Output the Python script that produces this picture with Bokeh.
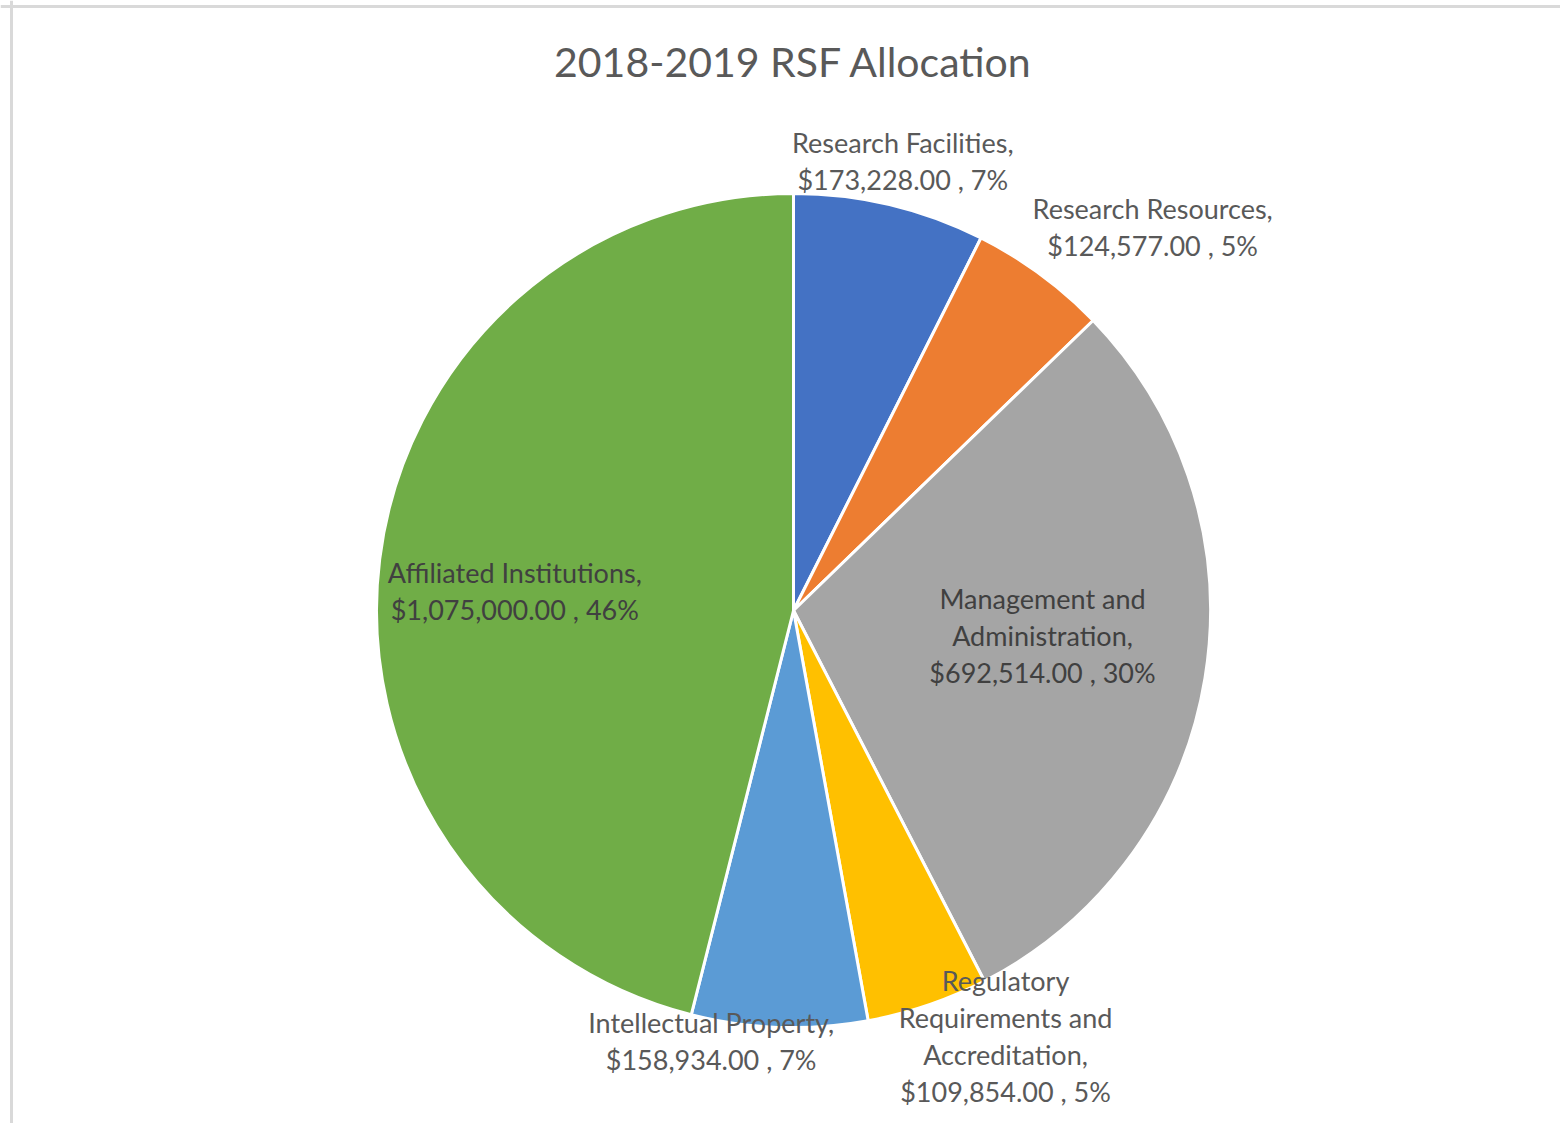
import math
from bokeh.plotting import figure
from bokeh.models import Range1d, Span, ColumnDataSource
from bokeh.core.properties import value
from bokeh.embed import file_html
from bokeh.resources import INLINE

# ---- data ----
title_text = "2018-2019 RSF Allocation"
categories = ["Research Facilities", "Research Resources", "Management and Administration",
              "Regulatory Requirements and Accreditation", "Intellectual Property",
              "Affiliated Institutions"]
amounts = [173228.00, 124577.00, 692514.00, 109854.00, 158934.00, 1075000.00]
label_texts = [
    "Research Facilities,\n$173,228.00 , 7%",
    "Research Resources,\n$124,577.00 , 5%",
    "Management and\nAdministration,\n$692,514.00 , 30%",
    "Regulatory\nRequirements and\nAccreditation,\n$109,854.00 , 5%",
    "Intellectual Property,\n$158,934.00 , 7%",
    "Affiliated Institutions,\n$1,075,000.00 , 46%",
]
colors = ["#4472C4", "#ED7D31", "#A5A5A5", "#FFC000", "#5B9BD5", "#70AD47"]

# ---- style / layout ----
W, H = 1560, 1123
CX, CY, R = 793, H - 610, 417
# label placement: radial distance factor, angle nudge (deg), text colour
label_r = [1.11, 1.26, 0.60, 1.14, 1.05, 0.67]
label_nudge = [-0.3, -6.8, 3.7, 7.7, -8.9, 3.1]
label_color = ["#595959", "#595959", "#404040", "#595959", "#595959", "#404040"]
FONT = "Lato"

total = sum(amounts)
starts, ends, mids = [], [], []
cum = 0.0
for a in amounts:
    f0 = cum / total
    cum += a
    f1 = cum / total
    starts.append(math.pi / 2 - f0 * 2 * math.pi)
    ends.append(math.pi / 2 - f1 * 2 * math.pi)
    mids.append(math.pi / 2 - (f0 + f1) / 2 * 2 * math.pi)

lx, ly = [], []
for m, k, n in zip(mids, label_r, label_nudge):
    a = m + math.radians(n)
    lx.append(CX + R * k * math.cos(a))
    ly.append(CY + R * k * math.sin(a))

p = figure(width=W, height=H, output_backend="svg", toolbar_location=None,
           x_range=Range1d(0, W), y_range=Range1d(0, H), min_border=0)
p.axis.visible = False
p.grid.visible = False
p.outline_line_color = None
p.background_fill_color = "white"
p.border_fill_color = "white"

src = ColumnDataSource(dict(start=starts, end=ends, color=colors, cat=categories))
p.wedge(x=CX, y=CY, radius=R, start_angle="start", end_angle="end", direction="clock",
        fill_color="color", line_color="white", line_width=3, source=src)

lsrc = ColumnDataSource(dict(x=lx, y=ly, text=label_texts, color=label_color))
p.text(x="x", y="y", text="text", source=lsrc, text_align="center", text_baseline="middle",
       text_font=value(FONT), text_font_size="27px", text_color="color", text_line_height=1.12)

p.text(x=[CX], y=[H - 61], text=[title_text], text_align="center", text_baseline="middle",
       text_font=value(FONT), text_font_size="41px", text_color="#595959")

p.add_layout(Span(location=11, dimension="height", line_color="#d9d9d9", line_width=3))
p.add_layout(Span(location=H - 6, dimension="width", line_color="#d9d9d9", line_width=3))

open("out.html", "w").write(file_html(p, INLINE))
